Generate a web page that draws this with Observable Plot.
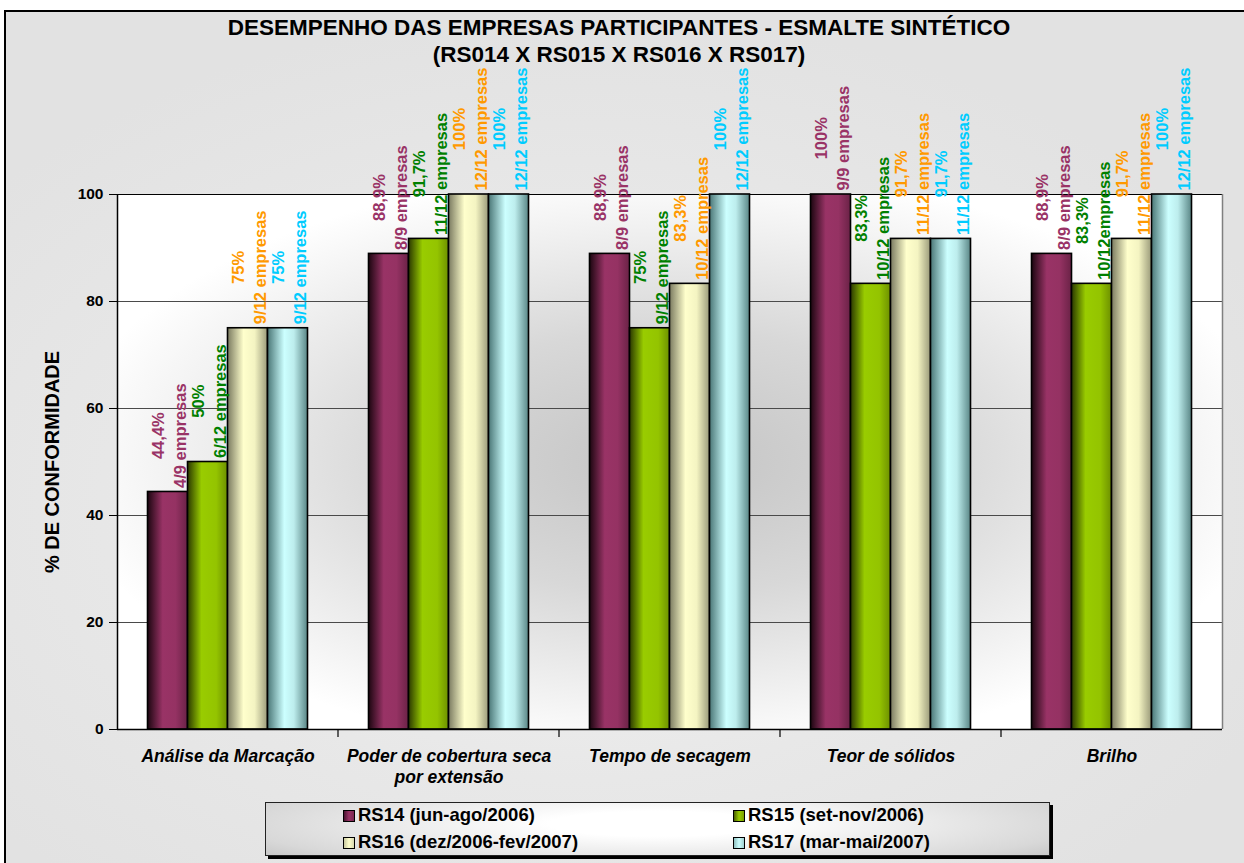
<!DOCTYPE html>
<html>
<head>
<meta charset="utf-8">
<script src="https://cdn.jsdelivr.net/npm/d3@7"></script>
<script src="https://cdn.jsdelivr.net/npm/@observablehq/plot@0.6"></script>
<style>
html, body { margin:0; padding:0; width:1244px; height:863px; overflow:hidden; background:#fff;
  font-family:"Liberation Sans", Arial, Helvetica, sans-serif; }
#frame { position:absolute; left:4px; top:10px; width:1270px; height:900px; border:2px solid #000;
  background: radial-gradient(ellipse 60% 55% at 45% 55%, #f3f3f3 0%, #e8e8e8 55%, #e2e2e2 100%); }
#title { position:absolute; left:0; top:14px; width:1238px; text-align:center; font-weight:bold;
  font-size:22.5px; line-height:27px; color:#000; }
#chart { position:absolute; left:0; top:0; }
#chart svg { overflow:visible; }
#legend { position:absolute; left:265px; top:802px; width:783px; height:52px; border:1px solid #222;
  box-shadow:3px 3px 0 #000;
  background: radial-gradient(ellipse 70% 120% at 50% 40%, #ffffff 20%, #d8d8d8 75%, #b8b8b8 100%); }
.item { position:absolute; font-weight:bold; font-size:18.5px; line-height:20px; color:#000; white-space:nowrap; }
.sw { display:inline-block; width:10px; height:10px; border:1.5px solid #000; margin-right:3px; vertical-align:-1px; }
</style>
</head>
<body>
<div id="frame"></div>
<div id="chart"></div>
<div id="title">DESEMPENHO DAS EMPRESAS PARTICIPANTES - ESMALTE SINTÉTICO<br>(RS014 X RS015 X RS016 X RS017)</div>
<div id="legend"></div>
<script>
// ---------- data ----------
const categories = ["Análise da Marcação", "Poder de cobertura seca\npor extensão", "Tempo de secagem", "Teor de sólidos", "Brilho"];
const series = ["RS14 (jun-ago/2006)", "RS15 (set-nov/2006)", "RS16 (dez/2006-fev/2007)", "RS17 (mar-mai/2007)"];
const rs14 = [44.4, 88.9, 88.9, 100, 88.9];
const rs15 = [50, 91.7, 75, 83.3, 83.3];
const rs16 = [75, 100, 83.3, 91.7, 91.7];
const rs17 = [75, 100, 100, 91.7, 100];
const rs14Pct = ["44,4%", "88,9%", "88,9%", "100%", "88,9%"];
const rs15Pct = ["50%", "91,7%", "75%", "83,3%", "83,3%"];
const rs16Pct = ["75%", "100%", "83,3%", "91,7%", "91,7%"];
const rs17Pct = ["75%", "100%", "100%", "91,7%", "100%"];
const rs14Count = ["4/9 empresas", "8/9 empresas", "8/9 empresas", "9/9 empresas", "8/9 empresas"];
const rs15Count = ["6/12 empresas", "11/12 empresas", "9/12 empresas", "10/12 empresas", "10/12empresas"];
const rs16Count = ["9/12 empresas", "12/12 empresas", "10/12 empresas", "11/12 empresas", "11/12 empresas"];
const rs17Count = ["9/12 empresas", "12/12 empresas", "12/12 empresas", "11/12 empresas", "12/12 empresas"];
const yTicks = [0, 20, 40, 60, 80, 100];
const yTitle = "% DE CONFORMIDADE";

// ---------- styles ----------
const labelColors = ["#993366", "#008000", "#ff9900", "#00ccff"];
const gradStops = [
  [["0", "#1c0610"], ["0.38", "#993366"], ["0.7", "#953263"], ["1", "#6a2246"]],
  [["0", "#2a3800"], ["0.35", "#99cc00"], ["0.72", "#94c400"], ["1", "#6d9000"]],
  [["0", "#7a7a60"], ["0.4", "#ffffcc"], ["0.68", "#f4f4c2"], ["1", "#9a9a7a"]],
  [["0", "#4a7676"], ["0.42", "#ccffff"], ["0.66", "#bdeded"], ["1", "#5a8686"]]
];

const values = [rs14, rs15, rs16, rs17];
const pcts = [rs14Pct, rs15Pct, rs16Pct, rs17Pct];
const counts = [rs14Count, rs15Count, rs16Count, rs17Count];
const data = [];
series.forEach((s, si) => categories.forEach((c, ci) => data.push({
  category: c, series: s, si, value: values[si][ci], label: pcts[si][ci] + "\n" + counts[si][ci]
})));

const W = 1244, H = 800, ML = 117, MR = 22, MT = 194, MB = 71;
const bw = (W - ML - MR) / categories.length;
const barW = 40;
const gap = (bw - barW * series.length) / 2;
const font = '"Liberation Sans", Arial, Helvetica, sans-serif';

const marks = [
  Plot.frame({fill: "url(#plotBg)", stroke: null}),
  Plot.ruleY(yTicks.slice(1, -1), {stroke: "#4a4a4a", strokeWidth: 1}),
  Plot.ruleY([yTicks[yTicks.length - 1]], {stroke: "#000", strokeWidth: 1.2}),
  Plot.ruleX([categories[categories.length - 1]], {dx: bw / 2, stroke: "#808080", strokeWidth: 1.5}),
  ...series.map((s, i) => Plot.barY(data.filter(d => d.si === i), {
    x: "category", y: "value", fill: `url(#barGrad${i})`, stroke: "#000", strokeWidth: 1.6,
    insetLeft: gap + barW * i, insetRight: bw - gap - barW * (i + 1)
  })),
  Plot.ruleY([0], {stroke: "#000", strokeWidth: 1.5}),
  Plot.ruleX([categories[0]], {dx: -bw / 2, stroke: "#000", strokeWidth: 1.5}),
  ...series.map((s, i) => Plot.text(data.filter(d => d.si === i), {
    x: "category", y: "value", text: "label", rotate: -90, textAnchor: "middle", lineAnchor: "middle",
    lineHeight: 1.3, dx: -bw / 2 + gap + barW * (i + 0.5), fill: labelColors[i],
    fontSize: 16.5, fontWeight: "bold"
  })),
  Plot.text(categories, {x: d => d, frameAnchor: "bottom", textAnchor: "middle", dy: 17, lineAnchor: "top", lineHeight: 1.22,
    fontSize: 17.5, fontWeight: "bold", fontStyle: "italic", fill: "#000"}),
  Plot.text([yTitle], {frameAnchor: "left", textAnchor: "middle", rotate: -90, dx: -65, fontSize: 20, fontWeight: "bold", fill: "#000"})
];

const plot = Plot.plot({
  width: W, height: H, marginLeft: ML, marginRight: MR, marginTop: MT, marginBottom: MB,
  style: {background: "transparent", fontFamily: font, fontSize: "15.5px", fontWeight: "bold", color: "#000", overflow: "visible"},
  x: {domain: categories, padding: 0, axis: null},
  y: {domain: [0, 100], ticks: yTicks.length - 1, tickSize: 8, tickPadding: 6, label: null, tickFormat: d => String(d)},
  marks
});

// gradient definitions
const svgNode = plot.tagName.toLowerCase() === "svg" ? plot : plot.querySelector("svg");
const svgSel = d3.select(svgNode);
const defs = svgSel.insert("defs", ":first-child");
gradStops.forEach((stops, i) => {
  const g = defs.append("linearGradient").attr("id", `barGrad${i}`).attr("x1", 0).attr("x2", 1).attr("y1", 0).attr("y2", 0);
  stops.forEach(([o, c]) => g.append("stop").attr("offset", o).attr("stop-color", c));
});
const rg = defs.append("radialGradient").attr("id", "plotBg").attr("cx", 0.5).attr("cy", 0.5).attr("r", 0.55);
[["0", "#c4c4c4"], ["0.45", "#d8d8d8"], ["1", "#ffffff"]].forEach(([o, c]) => rg.append("stop").attr("offset", o).attr("stop-color", c));

document.getElementById("chart").appendChild(plot);

// category boundary ticks under the axis, from the library's scales
const xs = plot.scale("x"), ys = plot.scale("y");
const y0 = ys.apply(0);
categories.slice(1).forEach(c => {
  const xb = xs.apply(c);
  svgSel.append("line").attr("x1", xb).attr("x2", xb).attr("y1", y0).attr("y2", y0 + 8)
    .attr("stroke", "#000").attr("stroke-width", 1.2);
});

// lift each rotated two-line label (centred on its bar top) so it sits just above the bar
Array.from(svgNode.querySelectorAll("text"))
  .filter(t => /empresas/.test(t.textContent))
  .forEach(t => {
    const r = t.getBoundingClientRect();
    const lift = r.height / 2 + 4;
    const tr = t.getAttribute("transform") || "";
    t.setAttribute("transform", `translate(0,${-lift}) ` + tr);
  });

// legend
const legend = document.getElementById("legend");
const pos = [[77, 2], [467, 2], [77, 29], [467, 29]];
const swatchCss = [
  "linear-gradient(90deg,#4a1330,#993366 50%,#7a2850)",
  "linear-gradient(90deg,#4a6000,#99cc00 50%,#7a9f00)",
  "linear-gradient(90deg,#c8c8a0,#ffffcc 50%,#d8d8b0)",
  "linear-gradient(90deg,#90c0c0,#ccffff 50%,#a0d0d0)"
];
series.forEach((s, i) => {
  const d = document.createElement("div");
  d.className = "item";
  d.style.left = pos[i][0] + "px";
  d.style.top = pos[i][1] + "px";
  d.innerHTML = `<span class="sw" style="background:${swatchCss[i]}"></span>${s}`;
  legend.appendChild(d);
});
</script>
</body>
</html>
